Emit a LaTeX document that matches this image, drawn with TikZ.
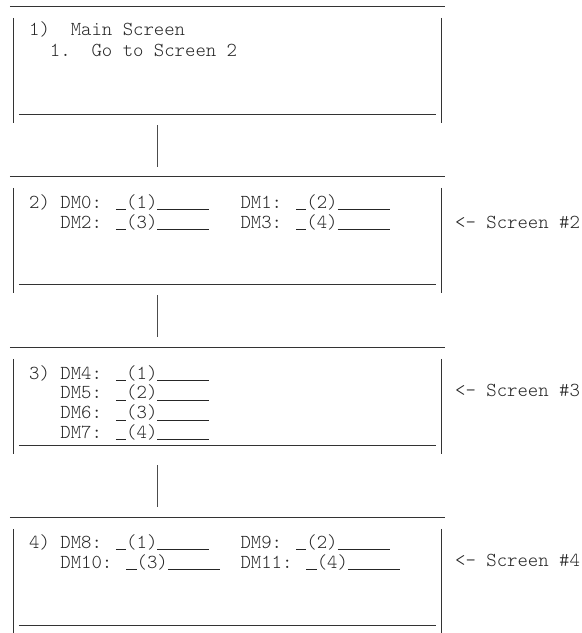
\documentclass[tikz,border=0pt]{standalone}
\usetikzlibrary{positioning}

\newcommand{\scrfont}{\fontsize{19.8}{20}\ttfamily\fontseries{l}\selectfont}
% blank field of n character cells
\newcommand{\blank}[1]{\rule[-2pt]{\dimexpr0.525em*#1\relax}{0.8pt}}

\tikzset{
  screen/.style={rectangle, inner sep=0pt, minimum width=427pt},
  rowtext/.style={anchor=base west, inner sep=0pt, text=black!85, font=\scrfont},
  edge/.style={line width=1pt, draw=black!80},
  link/.style={line width=1pt, draw=black!70}
}

\begin{document}
\begin{tikzpicture}[x=1pt, y=-1pt]
	\useasboundingbox (0, 0) rectangle (582, 633);

	% the four screens
	\node[screen, minimum height=107pt] (scr1) at (227.5, 60.5) {};
	\node[screen, minimum height=107pt] (scr2) at (227.5, 230.5) {};
	\node[screen, minimum height=97pt]  (scr3) at (227.5, 396.5) {};
	\node[screen, minimum height=107pt] (scr4) at (227.5, 571.5) {};

	\foreach \s in {scr1, scr2, scr3, scr4} {
		\draw[edge] ([xshift=-4pt]\s.north west) -- ([xshift=4pt]\s.north east); % top
		\draw[edge] ([xshift=5pt]\s.south west) -- ([xshift=-5pt]\s.south east); % bottom
		\draw[edge] ([yshift=-11pt]\s.north west) -- ([yshift=-9pt]\s.south west); % left
		\draw[edge] ([yshift=-11pt]\s.north east) -- ([yshift=-9pt]\s.south east); % right
	}

	% connectors
	\draw[link, shorten <=11pt, shorten >=10pt] ([xshift=144pt]scr1.south west) -- ([xshift=144pt]scr2.north west);
	\draw[link, shorten <=11pt, shorten >=11pt] ([xshift=144pt]scr2.south west) -- ([xshift=144pt]scr3.north west);
	\draw[link, shorten <=20pt, shorten >=11pt] ([xshift=144pt]scr3.south west) -- ([xshift=144pt]scr4.north west);

	% screen 1
	\node[rowtext] (m1a) at (29, 35) {1)~~Main Screen};
	\node[rowtext] (m1b) at (29, 56) {~~1.~~Go to Screen 2};

	% screen 2
	\node[rowtext] (m2a) at (29, 208) {2) DM0: \blank{1}(1)\blank{5}~~~DM1: \blank{1}(2)\blank{5}};
	\node[rowtext] (m2b) at (29, 228) {~~~DM2: \blank{1}(3)\blank{5}~~~DM3: \blank{1}(4)\blank{5}};
	\node[rowtext] (lab2) at (455, 228) {<— Screen \#2};

	% screen 3
	\node[rowtext] (m3a) at (29, 379) {3) DM4: \blank{1}(1)\blank{5}};
	\node[rowtext] (m3b) at (29, 398.7) {~~~DM5: \blank{1}(2)\blank{5}};
	\node[rowtext] (m3c) at (29, 418.4) {~~~DM6: \blank{1}(3)\blank{5}};
	\node[rowtext] (m3d) at (29, 438) {~~~DM7: \blank{1}(4)\blank{5}};
	\node[rowtext] (lab3) at (455, 396) {<— Screen \#3};

	% screen 4
	\node[rowtext] (m4a) at (29, 548) {4) DM8: \blank{1}(1)\blank{5}~~~DM9: \blank{1}(2)\blank{5}};
	\node[rowtext] (m4b) at (29, 568) {~~~DM10: \blank{1}(3)\blank{5}~~DM11: \blank{1}(4)\blank{5}};
	\node[rowtext] (lab4) at (455, 566) {<— Screen \#4};
\end{tikzpicture}
\end{document}
